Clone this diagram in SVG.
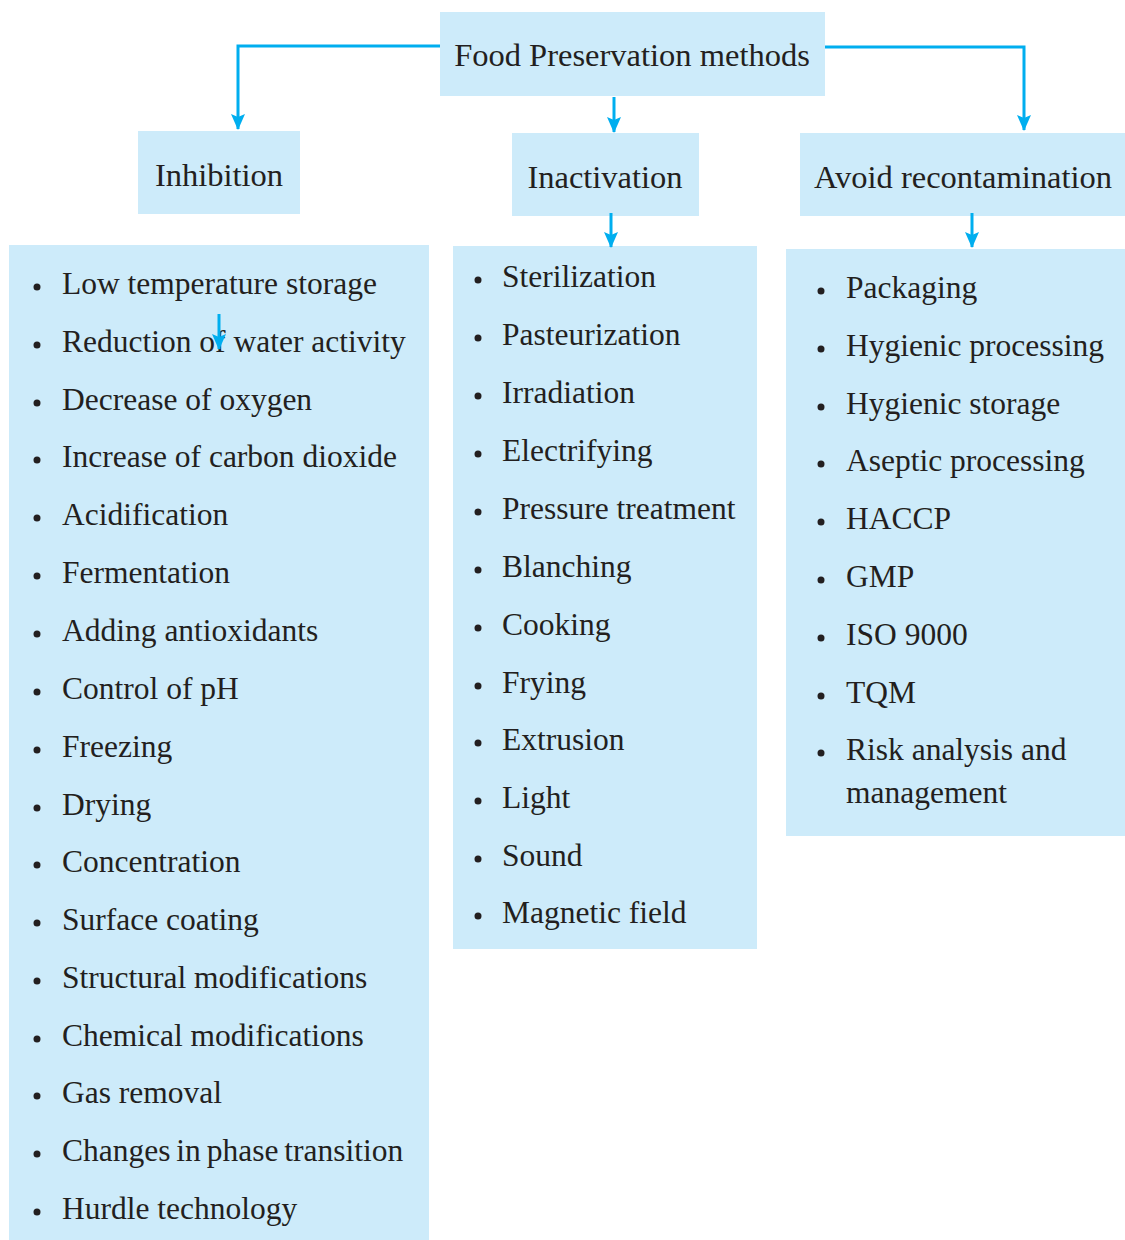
<svg xmlns="http://www.w3.org/2000/svg" width="1125" height="1240" viewBox="0 0 1125 1240">
<style>
.box{fill:#cdebfa}
.t{font-family:"Liberation Serif","Times New Roman",serif;font-size:31.5px;fill:#231f20}
.h{text-anchor:middle;font-size:32.5px}
.b{fill:#231f20}
.c{fill:none;stroke:#00aeef;stroke-width:3}
</style>
<defs>
<marker id="ah" markerUnits="userSpaceOnUse" markerWidth="16" markerHeight="14" refX="15" refY="7" orient="auto" viewBox="0 0 16 14">
<path d="M0,0 L16,7 L0,14 L3,7 Z" fill="#00aeef"/>
</marker>
</defs>
<rect width="1125" height="1240" fill="#fff"/>
<g id="root">
<rect class="box" x="440" y="12" width="385" height="84"/>
<text class="t h" x="632" y="66">Food Preservation methods</text>
</g>
<g id="inhibition">
<rect class="box" x="138" y="131" width="162" height="83"/>
<text class="t h" x="219" y="186">Inhibition</text>
</g>
<g id="inactivation">
<rect class="box" x="512" y="133" width="187" height="83"/>
<text class="t h" x="605" y="188">Inactivation</text>
</g>
<g id="avoid">
<rect class="box" x="800" y="133" width="325" height="83"/>
<text class="t h" x="963" y="188">Avoid recontamination</text>
</g>
<g id="inhibition-list">
<rect class="box" x="9" y="245" width="420" height="995"/>
<g class="b">
<circle cx="37" cy="287" r="3.5"/><circle cx="37" cy="345" r="3.5"/><circle cx="37" cy="403" r="3.5"/><circle cx="37" cy="460" r="3.5"/><circle cx="37" cy="518" r="3.5"/><circle cx="37" cy="576" r="3.5"/><circle cx="37" cy="634" r="3.5"/><circle cx="37" cy="692" r="3.5"/><circle cx="37" cy="750" r="3.5"/><circle cx="37" cy="808" r="3.5"/><circle cx="37" cy="865" r="3.5"/><circle cx="37" cy="923" r="3.5"/><circle cx="37" cy="981" r="3.5"/><circle cx="37" cy="1039" r="3.5"/><circle cx="37" cy="1096" r="3.5"/><circle cx="37" cy="1154" r="3.5"/><circle cx="37" cy="1212" r="3.5"/>
</g>
<text class="t" x="62" y="294">Low temperature storage</text>
<text class="t" x="62" y="352">Reduction of water activity</text>
<text class="t" x="62" y="410">Decrease of oxygen</text>
<text class="t" x="62" y="467">Increase of carbon dioxide</text>
<text class="t" x="62" y="525">Acidification</text>
<text class="t" x="62" y="583">Fermentation</text>
<text class="t" x="62" y="641">Adding antioxidants</text>
<text class="t" x="62" y="699">Control of pH</text>
<text class="t" x="62" y="757">Freezing</text>
<text class="t" x="62" y="815">Drying</text>
<text class="t" x="62" y="872">Concentration</text>
<text class="t" x="62" y="930">Surface coating</text>
<text class="t" x="62" y="988">Structural modifications</text>
<text class="t" x="62" y="1046">Chemical modifications</text>
<text class="t" x="62" y="1103">Gas removal</text>
<text class="t" x="62" y="1161" word-spacing="-2">Changes in phase transition</text>
<text class="t" x="62" y="1219">Hurdle technology</text>
</g>
<g id="inactivation-list">
<rect class="box" x="453" y="246" width="304" height="703"/>
<g class="b">
<circle cx="478" cy="280" r="3.5"/><circle cx="478" cy="338" r="3.5"/><circle cx="478" cy="396" r="3.5"/><circle cx="478" cy="454" r="3.5"/><circle cx="478" cy="512" r="3.5"/><circle cx="478" cy="570" r="3.5"/><circle cx="478" cy="628" r="3.5"/><circle cx="478" cy="686" r="3.5"/><circle cx="478" cy="743" r="3.5"/><circle cx="478" cy="801" r="3.5"/><circle cx="478" cy="859" r="3.5"/><circle cx="478" cy="916" r="3.5"/>
</g>
<text class="t" x="502" y="287">Sterilization</text>
<text class="t" x="502" y="345">Pasteurization</text>
<text class="t" x="502" y="403">Irradiation</text>
<text class="t" x="502" y="461">Electrifying</text>
<text class="t" x="502" y="519">Pressure treatment</text>
<text class="t" x="502" y="577">Blanching</text>
<text class="t" x="502" y="635">Cooking</text>
<text class="t" x="502" y="693">Frying</text>
<text class="t" x="502" y="750">Extrusion</text>
<text class="t" x="502" y="808">Light</text>
<text class="t" x="502" y="866">Sound</text>
<text class="t" x="502" y="923">Magnetic field</text>
</g>
<g id="avoid-list">
<rect class="box" x="786" y="249" width="339" height="587"/>
<g class="b">
<circle cx="821" cy="291" r="3.5"/><circle cx="821" cy="349" r="3.5"/><circle cx="821" cy="407" r="3.5"/><circle cx="821" cy="464" r="3.5"/><circle cx="821" cy="522" r="3.5"/><circle cx="821" cy="580" r="3.5"/><circle cx="821" cy="638" r="3.5"/><circle cx="821" cy="696" r="3.5"/><circle cx="821" cy="753" r="3.5"/>
</g>
<text class="t" x="846" y="298">Packaging</text>
<text class="t" x="846" y="356">Hygienic processing</text>
<text class="t" x="846" y="414">Hygienic storage</text>
<text class="t" x="846" y="471">Aseptic processing</text>
<text class="t" x="846" y="529">HACCP</text>
<text class="t" x="846" y="587">GMP</text>
<text class="t" x="846" y="645">ISO 9000</text>
<text class="t" x="846" y="703">TQM</text>
<text class="t" x="846" y="760">Risk analysis and</text>
<text class="t" x="846" y="803">management</text>
</g>
<g id="connectors">
<path class="c" d="M440,46 H238 V129" marker-end="url(#ah)"/>
<path class="c" d="M825,47 H1024 V130" marker-end="url(#ah)"/>
<path class="c" d="M614,97 V132" marker-end="url(#ah)"/>
<path class="c" d="M611,213 V247" marker-end="url(#ah)"/>
<path class="c" d="M972,213 V247" marker-end="url(#ah)"/>
<path class="c" d="M219,314 V349" marker-end="url(#ah)"/>
</g>
</svg>
